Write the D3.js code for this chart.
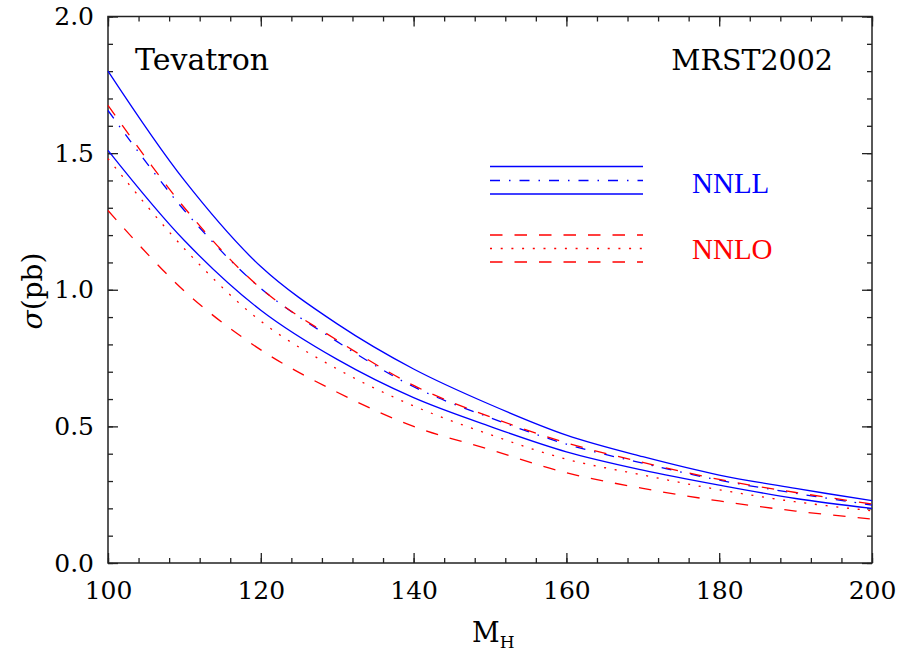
<!DOCTYPE html>
<html>
<head>
<meta charset="utf-8">
<script src="https://cdn.jsdelivr.net/npm/d3@7"></script>
<style>
	body { margin: 0; background: #fff; }
	svg { display: block; }
	.tick text { font-family: "DejaVu Serif", serif; font-size: 25px; fill: #000; }
	.tick line { stroke: #222; stroke-width: 1.3; }
</style>
</head>
<body>
<div id="chart"></div>
<script>
// Higgs mass (GeV)
const massPoints = [100, 110, 120, 130, 140, 150, 160, 170, 180, 190, 200];

// cross sections (pb)
const nnllMax = [1.80, 1.40, 1.085, 0.875, 0.71, 0.58, 0.468, 0.389, 0.322, 0.273, 0.228];
const nnllCentral = [1.656, 1.29, 1.005, 0.81, 0.645, 0.532, 0.435, 0.365, 0.303, 0.255, 0.212];
const nnllMin = [1.51, 1.18, 0.925, 0.745, 0.605, 0.50, 0.407, 0.34, 0.285, 0.236, 0.20];
const nnloMax = [1.675, 1.30, 1.005, 0.815, 0.65, 0.535, 0.44, 0.368, 0.306, 0.258, 0.216];
const nnloCentral = [1.48, 1.15, 0.885, 0.71, 0.575, 0.47, 0.38, 0.322, 0.268, 0.224, 0.191];
const nnloMin = [1.29, 0.995, 0.78, 0.625, 0.50, 0.415, 0.33, 0.273, 0.227, 0.19, 0.161];

const xMajorTicks = [100, 120, 140, 160, 180, 200];
const yMajorTicks = [0, 0.5, 1.0, 1.5, 2.0];

const width = 900, height = 653;
const margin = {left: 108, right: 28, top: 16.5, bottom: 90};

const svg = d3.select('#chart').append('svg')
	.attr('width', width)
	.attr('height', height);

const x = d3.scaleLinear().domain([100, 200]).range([margin.left, width - margin.right]);
const y = d3.scaleLinear().domain([0, 2]).range([height - margin.bottom, margin.top]);

const xMinor = d3.range(100, 200.01, 4);
const yMinor = d3.range(0, 2.001, 0.1);

// axes: ticks point inward on all four sides
function drawAxis(axis, tx, ty, labels) {
	const g = svg.append('g').attr('transform', `translate(${tx},${ty})`).call(axis);
	g.select('.domain').remove();
	if(!labels) {
		g.selectAll('text').remove();
	}
	return g;
}

const plotBottom = y.range()[0], plotTop = y.range()[1];
const plotLeft = x.range()[0], plotRight = x.range()[1];

drawAxis(d3.axisBottom(x).tickValues(xMinor).tickSize(-5), 0, plotBottom, false);
drawAxis(d3.axisTop(x).tickValues(xMinor).tickSize(-5), 0, plotTop, false);
drawAxis(d3.axisLeft(y).tickValues(yMinor).tickSize(-5), plotLeft, 0, false);
drawAxis(d3.axisRight(y).tickValues(yMinor).tickSize(-5), plotRight, 0, false);

drawAxis(d3.axisBottom(x).tickValues(xMajorTicks).tickSize(-10).tickPadding(18).tickFormat(d3.format('d')), 0, plotBottom, true);
drawAxis(d3.axisTop(x).tickValues(xMajorTicks).tickSize(-10), 0, plotTop, false);
drawAxis(d3.axisLeft(y).tickValues(yMajorTicks).tickSize(-10).tickPadding(14).tickFormat(d3.format('.1f')), plotLeft, 0, true);
drawAxis(d3.axisRight(y).tickValues(yMajorTicks).tickSize(-10), plotRight, 0, false);

svg.append('rect')
	.attr('x', plotLeft).attr('y', plotTop)
	.attr('width', plotRight - plotLeft).attr('height', plotBottom - plotTop)
	.attr('fill', 'none')
	.attr('stroke', '#222')
	.attr('stroke-width', 1.5);

// curves
const series = [
	{values: nnllMax, color: '#0000ff', dash: null},
	{values: nnllCentral, color: '#0000ff', dash: '10,9,1.5,9'},
	{values: nnllMin, color: '#0000ff', dash: null},
	{values: nnloMax, color: '#ff0000', dash: '12.5,12'},
	{values: nnloCentral, color: '#ff0000', dash: '2,8.7'},
	{values: nnloMin, color: '#ff0000', dash: '12.5,12'}
];

const line = d3.line()
	.x( (d)=>x(d[0]) )
	.y( (d)=>y(d[1]) )
	.curve(d3.curveCatmullRom);

svg.append('g').selectAll('path')
	.data(series)
	.enter()
	.append('path')
	.attr('d', (s)=>line(massPoints.map( (m, i)=>[m, s.values[i]] )))
	.attr('fill', 'none')
	.attr('stroke', (s)=>s.color)
	.attr('stroke-width', 1.3)
	.attr('stroke-dasharray', (s)=>s.dash);

// legend
const legendRows = [
	{y: 166.5, color: '#0000ff', dash: null},
	{y: 180.5, color: '#0000ff', dash: '10,9,1.5,9'},
	{y: 194, color: '#0000ff', dash: null},
	{y: 235, color: '#ff0000', dash: '12.5,12'},
	{y: 248.5, color: '#ff0000', dash: '2,8.7'},
	{y: 262, color: '#ff0000', dash: '12.5,12'}
];

svg.append('g').selectAll('line')
	.data(legendRows)
	.enter()
	.append('line')
	.attr('x1', 490).attr('x2', 643)
	.attr('y1', (r)=>r.y).attr('y2', (r)=>r.y)
	.attr('stroke', (r)=>r.color)
	.attr('stroke-width', 1.3)
	.attr('stroke-dasharray', (r)=>r.dash);

const legendFont = '"Liberation Serif", serif';
svg.append('text').attr('x', 692).attr('y', 193)
	.attr('font-family', legendFont).attr('font-size', 29).attr('fill', '#0000ff')
	.text('NNLL');
svg.append('text').attr('x', 692).attr('y', 259)
	.attr('font-family', legendFont).attr('font-size', 29).attr('fill', '#ff0000')
	.text('NNLO');

// labels
const labelFont = '"DejaVu Serif", serif';
svg.append('text').attr('x', 135).attr('y', 70)
	.attr('font-family', labelFont).attr('font-size', 30)
	.text('Tevatron');
svg.append('text').attr('x', 833).attr('y', 70)
	.attr('text-anchor', 'end')
	.attr('font-family', labelFont).attr('font-size', 28.5)
	.text('MRST2002');

svg.append('text')
	.attr('transform', 'translate(42,291) rotate(-90)')
	.attr('text-anchor', 'middle')
	.attr('font-family', labelFont).attr('font-size', 28)
	.html('<tspan font-style="italic">σ</tspan>(pb)');

const mLabel = svg.append('text')
	.attr('x', 472).attr('y', 642)
	.attr('font-family', labelFont).attr('font-size', 27);
mLabel.append('tspan').text('M');
mLabel.append('tspan').attr('font-size', 17).attr('dy', 6).text('H');
</script>
</body>
</html>
